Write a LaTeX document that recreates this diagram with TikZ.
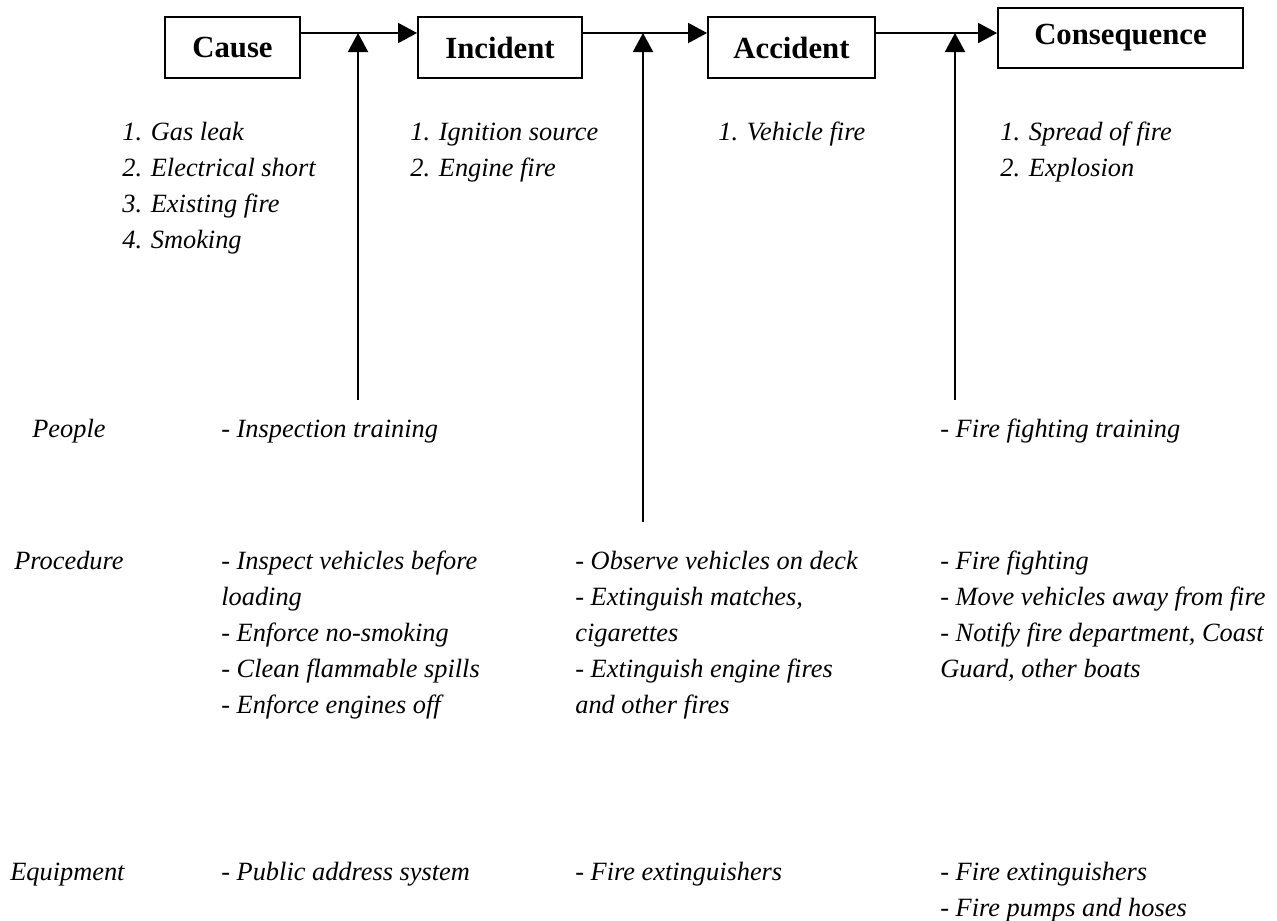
\documentclass[tikz,border=0pt]{standalone}
\usepackage{fontspec}
\setmainfont{Liberation Serif}
\usetikzlibrary{arrows.meta, positioning}

\begin{document}
\begin{tikzpicture}[
          x=0.02cm, y=-0.02cm,
          every node/.style = {font=\fontsize{15}{20.4}\selectfont\itshape, inner sep=0pt},
          stage/.style = {draw, line width=1.1pt, minimum height=1.22cm,
                          font=\fontsize{17.5}{20}\selectfont\bfseries},
          item/.style = {anchor=base west, align=left},
          arr/.style = {-{Triangle[length=0.38cm, width=0.4cm]}, line width=1.1pt},
        ]
        \useasboundingbox (0,0) rectangle (1277,920);

        %% Stages
        \node[stage, minimum width=2.7cm]  (cause)    at (232.5,47.5) {Cause};
        \node[stage, minimum width=3.28cm] (incident) at (500,47.5)   {Incident};
        \node[stage, minimum width=3.34cm] (accident) at (791.5,47.5) {Accident};
        \node[stage, minimum width=4.9cm, minimum height=1.2cm] (conseq) at (1120.5,38) {Consequence};

        %% Main line
        \coordinate (lvl) at (0,33);
        \draw[arr] (cause.east |- lvl)    -- (incident.west |- lvl);
        \draw[arr] (incident.east |- lvl) -- (accident.west |- lvl);
        \draw[arr] (accident.east |- lvl) -- (conseq.west |- lvl);

        %% Barriers
        \coordinate (barA) at (358,400);
        \coordinate (barB) at (643,522);
        \coordinate (barC) at (955,400);
        \draw[arr] (barA) -- (barA |- lvl);
        \draw[arr] (barB) -- (barB |- lvl);
        \draw[arr] (barC) -- (barC |- lvl);

        %% Lists under the stages (base = last line)
        \node[item] (causes)  at (122,248)  {1. Gas leak\\2. Electrical short\\3. Existing fire\\4. Smoking};
        \node[item] (incids)  at (410,176)  {1. Ignition source\\2. Engine fire};
        \node[item] (accids)  at (718,140)  {1. Vehicle fire};
        \node[item] (conseqs) at (1000,176) {1. Spread of fire\\2. Explosion};

        %% People
        \node[item] (people)  at (32,437)  {People};
        \node[item] (peopleA) at (221,437) {- Inspection training};
        \node[item] (peopleC) at (940,437) {- Fire fighting training};

        %% Procedure
        \node[item] (proc)  at (14,569)  {Procedure};
        \node[item] (procA) at (221,713) {- Inspect vehicles before\\loading\\- Enforce no-smoking\\- Clean flammable spills\\- Enforce engines off};
        \node[item] (procB) at (575,713) {- Observe vehicles on deck\\- Extinguish matches,\\cigarettes\\- Extinguish engine fires\\and other fires};
        \node[item] (procC) at (940,677) {- Fire fighting\\- Move vehicles away from fire\\- Notify fire department, Coast\\Guard, other boats};

        %% Equipment
        \node[item] (equip)  at (10,880)  {Equipment};
        \node[item] (equipA) at (221,880) {- Public address system};
        \node[item] (equipB) at (575,880) {- Fire extinguishers};
        \node[item] (equipC) at (940,916) {- Fire extinguishers\\- Fire pumps and hoses};
      \end{tikzpicture}
\end{document}
